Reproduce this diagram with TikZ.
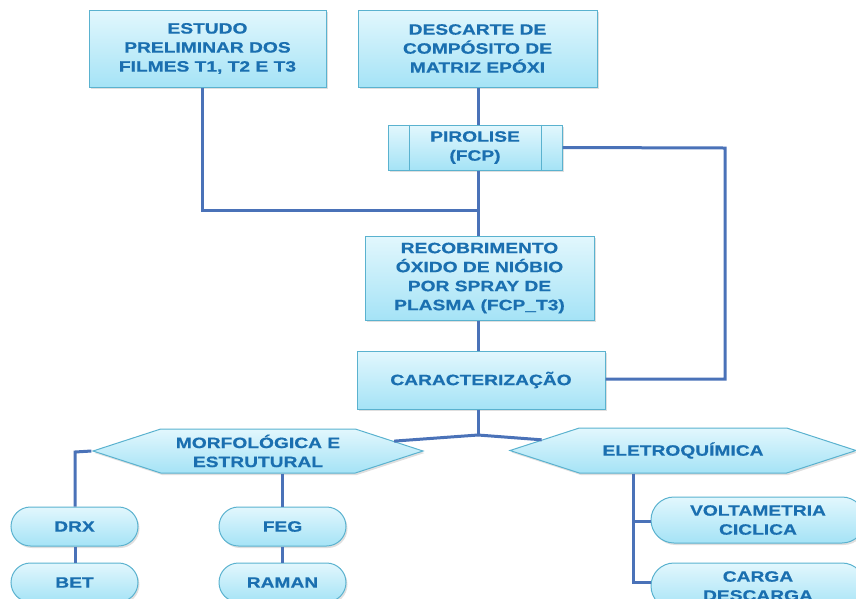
\documentclass[tikz,border=0pt]{standalone}
\usepackage{fontspec}
\newfontfamily\dfont[FakeStretch=1.28, FakeBold=0.6, BoldFeatures={FakeStretch=1.28, FakeBold=0.6}]{Liberation Sans}
\usetikzlibrary{shapes.misc,shapes.symbols,shadows}
\definecolor{fillTop}{HTML}{E2F7FD}
\definecolor{fillBot}{HTML}{A5E3F6}
\definecolor{bordercol}{HTML}{5AB2CF}
\definecolor{textcol}{HTML}{1A6FB0}
\definecolor{linecol}{HTML}{4A72B8}
\tikzset{
  basebox/.style={draw=bordercol, line width=1pt, top color=fillTop, bottom color=fillBot,
    text=textcol, align=center, inner sep=1pt,
    font=\dfont\bfseries\fontsize{15}{19}\selectfont,
    drop shadow={shadow xshift=1.5pt, shadow yshift=-2pt, opacity=0.25}},
  rectbox/.style={basebox, rectangle},
  pillbox/.style={basebox, rounded rectangle},
  hexbox/.style={basebox, signal, signal to=west and east, signal pointer angle=36},
  conn/.style={draw=linecol, line width=3pt}
}
\begin{document}
\begin{tikzpicture}[x=1pt,y=-1pt]
\useasboundingbox (0,0) rectangle (856,598);
\clip (0,0) rectangle (856,598);

\coordinate (j1) at (202,210);
\coordinate (j1b) at (478,210);
\coordinate (p1) at (725,148);
\coordinate (p2) at (725,379);
\coordinate (jc) at (478,435);
\coordinate (ml) at (75,452);
\coordinate (eb) at (633,582);
\coordinate (ev) at (633,521);

\node[rectbox, minimum width=237pt, minimum height=77pt] (est) at (207.5,48.5) {ESTUDO\\PRELIMINAR DOS\\FILMES T1, T2 E T3};
\node[rectbox, minimum width=239pt, minimum height=77pt] (des) at (477.5,48.5) {DESCARTE DE\\COMPÓSITO DE\\MATRIZ EPÓXI};
\node[rectbox, minimum width=174pt, minimum height=45pt] (pir) at (475,147.5) {PIROLISE\\(FCP)};
\node[rectbox, minimum width=229pt, minimum height=84pt] (rec) at (479.5,278) {RECOBRIMENTO\\ÓXIDO DE NIÓBIO\\POR SPRAY DE\\PLASMA (FCP\_T3)};
\node[rectbox, minimum width=248pt, minimum height=58pt] (car) at (481,380) {CARACTERIZAÇÃO};
\node[hexbox, minimum width=330pt, minimum height=44pt] (mor) at (258,451) {MORFOLÓGICA E\\ESTRUTURAL};
\node[hexbox, minimum width=346pt, minimum height=45pt] (ele) at (683,450.5) {ELETROQUÍMICA};
\node[pillbox, minimum width=129pt, minimum height=39pt] (drx) at (74.5,526.5) {DRX};
\node[pillbox, minimum width=129pt, minimum height=39pt] (bet) at (74.5,582.5) {BET};
\node[pillbox, minimum width=129pt, minimum height=39pt] (feg) at (282.5,526.5) {FEG};
\node[pillbox, minimum width=129pt, minimum height=39pt] (ram) at (282.5,582.5) {RAMAN};
\node[pillbox, minimum width=216pt, minimum height=46pt] (vol) at (758,520) {VOLTAMETRIA\\CICLICA};
\node[pillbox, minimum width=216pt, minimum height=46pt] (cdc) at (758,586) {CARGA\\DESCARGA};

\draw[draw=bordercol, line width=1pt] ([xshift=22pt]pir.north west) -- ([xshift=22pt]pir.south west);
\draw[draw=bordercol, line width=1pt] ([xshift=-21pt]pir.north east) -- ([xshift=-21pt]pir.south east);

\draw[conn] (est.south -| j1) -- (j1) -- (j1b);
\draw[conn] (des.south -| j1b) -- (pir.north -| j1b);
\draw[conn] (pir.south -| j1b) -- (rec.north -| j1b);
\draw[conn] (pir.east) -- (p1) -- (p2) -- (car.east |- p2);
\draw[conn] (rec.south -| j1b) -- (car.north -| j1b);
\draw[conn] (car.south -| jc) -- (jc);
\draw[conn] (jc) -- (mor);
\draw[conn] (jc) -- (ele);
\draw[conn] (mor.west) -- (ml) -- (drx.north -| ml);
\draw[conn] (drx.south -| ml) -- (bet.north -| ml);
\draw[conn] (mor.south -| feg) -- (feg.north);
\draw[conn] (feg.south) -- (ram.north);
\draw[conn] (ele.south -| ev) -- (eb) -- (cdc.west |- eb);
\draw[conn] (ev) -- (vol.west |- ev);
\end{tikzpicture}
\end{document}
